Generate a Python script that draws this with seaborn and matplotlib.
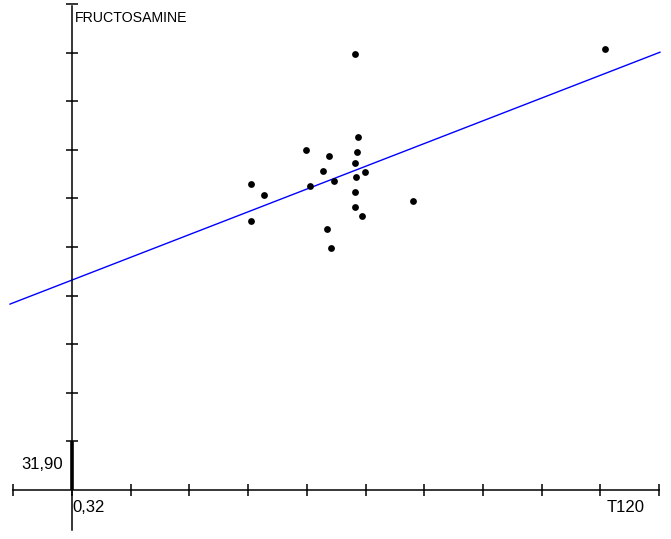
import numpy as np
import pandas as pd
import matplotlib
matplotlib.use("Agg")
import matplotlib.pyplot as plt
import seaborn as sns

# values, in tick units (origin where the two axes cross)
x_vals = [4.82, 9.08, 4.87, 3.99, 4.86, 4.38, 4.82, 4.28, 4.99, 4.84,
          3.05, 4.46, 4.05, 3.27, 4.82, 5.81, 4.82, 3.05, 4.94, 4.34, 4.41]
y_vals = [8.97, 9.07, 7.26, 7.00, 6.95, 6.87, 6.73, 6.56, 6.54, 6.44,
          6.30, 6.36, 6.26, 6.07, 6.13, 5.95, 5.82, 5.53, 5.64, 5.37, 4.98]

# fitted line
line_x = [-1.06, 10.02]
line_intercept = 4.32
line_slope = 0.468

x_ticks = list(range(-1, 11))
y_ticks = list(range(1, 11))

x_label_left = "0,32"
x_label_right = "T120"
y_label_low = "31,90"
y_title = "FRUCTOSAMINE"

df = pd.DataFrame({"x": x_vals, "y": y_vals})
df_line = pd.DataFrame({"x": line_x,
                        "y": [line_intercept + line_slope * v for v in line_x]})

sns.set_style("white")
plt.rcParams["font.family"] = ["Liberation Sans", "DejaVu Sans"]

fig = plt.figure(figsize=(6.71, 5.39), dpi=100)
ax = fig.add_axes([0, 0, 1, 1])

sns.lineplot(data=df_line, x="x", y="y", color="#0000ff", linewidth=1.0, ax=ax)
sns.scatterplot(data=df, x="x", y="y", color="black", marker="o", s=24,
                edgecolor="black", linewidth=0, ax=ax, zorder=3)

ax.set_xlim(-1.227, 10.204)
ax.set_ylim(-1.008, 10.082)

for s in ["top", "right"]:
    ax.spines[s].set_visible(False)
ax.spines["left"].set_position(("data", 0))
ax.spines["bottom"].set_position(("data", 0))
ax.spines["left"].set_bounds(-0.82, 9.96)
ax.spines["bottom"].set_bounds(-1.0, 10.0)
for s in ["left", "bottom"]:
    ax.spines[s].set_color("black")
    ax.spines[s].set_linewidth(1.1)

ax.set_xticks(x_ticks)
ax.set_yticks(y_ticks)
ax.set_xticklabels([])
ax.set_yticklabels([])
ax.tick_params(axis="both", which="major", bottom=True, left=True,
               direction="inout", length=8, width=1.1, color="black")
ax.set_xlabel("")
ax.set_ylabel("")

# thick segment on the first y interval
ax.plot([0, 0], [0, 1], color="black", linewidth=2.6, solid_capstyle="butt")

ax.text(0.05, 9.72, y_title, fontsize=10.2, ha="left", va="center", color="black")
ax.text(-0.16, 0.52, y_label_low, fontsize=12, ha="right", va="center", color="black")
ax.text(0.0, -0.37, x_label_left, fontsize=12, ha="left", va="center", color="black")
ax.text(9.1, -0.37, x_label_right, fontsize=12, ha="left", va="center", color="black")

fig.savefig("out.png", dpi=100)
